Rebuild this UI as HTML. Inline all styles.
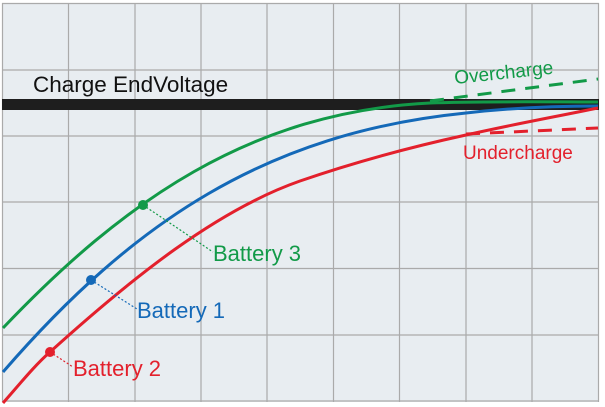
<!DOCTYPE html>
<html><head><meta charset="utf-8"><style>
html,body{margin:0;padding:0;background:#fff}
svg{display:block}
text{font-family:"Liberation Sans","DejaVu Sans",sans-serif}
</style></head><body>
<svg width="605" height="407" viewBox="0 0 605 407" xmlns="http://www.w3.org/2000/svg">
<rect x="2" y="3" width="597" height="399" fill="#e8edf1"/>
<g stroke="#aaaaaa" stroke-width="1.2">
<line x1="2.5" y1="3" x2="2.5" y2="402"/><line x1="68.5" y1="3" x2="68.5" y2="402"/>
<line x1="135" y1="3" x2="135" y2="402"/><line x1="201" y1="3" x2="201" y2="402"/>
<line x1="267" y1="3" x2="267" y2="402"/><line x1="333.5" y1="3" x2="333.5" y2="402"/>
<line x1="399.5" y1="3" x2="399.5" y2="402"/><line x1="466" y1="3" x2="466" y2="402"/>
<line x1="532" y1="3" x2="532" y2="402"/><line x1="598.5" y1="3" x2="598.5" y2="402"/>
<line x1="2" y1="3.5" x2="599" y2="3.5"/><line x1="2" y1="70" x2="599" y2="70"/>
<line x1="2" y1="136" x2="599" y2="136"/><line x1="2" y1="202" x2="599" y2="202"/>
<line x1="2" y1="268.5" x2="599" y2="268.5"/><line x1="2" y1="335" x2="599" y2="335"/>
<line x1="2" y1="401" x2="599" y2="401"/>
</g>
<rect x="2" y="99" width="597" height="11" fill="#1e1e1e"/>
<text x="33" y="92" font-size="22.5" fill="#111">Charge EndVoltage</text>
<g fill="none" stroke-width="3">
<path d="M3,328 C123,202 250,112 430,103 C480,101 560,102 598,102" stroke="#129a48"/>
<path d="M3,372 C133,222 266,133 466,113 C510,108 560,106 598,106" stroke="#1469b8"/>
<path d="M3,403 C19,385 34,366 50,352 C133,277 217,210 300,181 C355,162 411,147 466,135 C510,125 554,117 598,108" stroke="#e3202c"/>
<path d="M430,101 L598,79" stroke="#129a48" stroke-dasharray="14,10"/>
<path d="M466,134 L598,128" stroke="#e3202c" stroke-dasharray="14,10"/>
</g>
<g stroke-width="1.2" stroke-dasharray="2,2" fill="none">
<line x1="143" y1="205" x2="213" y2="252" stroke="#129a48"/>
<line x1="91" y1="280" x2="137" y2="309" stroke="#1469b8"/>
<line x1="50" y1="352" x2="73" y2="367" stroke="#e3202c"/>
</g>
<circle cx="143" cy="205" r="5" fill="#129a48"/>
<circle cx="91" cy="280" r="5" fill="#1469b8"/>
<circle cx="50" cy="352" r="5" fill="#e3202c"/>
<g font-size="22">
<text x="213" y="261" fill="#129a48">Battery 3</text>
<text x="137" y="318" fill="#1469b8">Battery 1</text>
<text x="73" y="376" fill="#e3202c">Battery 2</text>
<text x="463" y="159" fill="#e3202c" font-size="19">Undercharge</text>
<text x="455" y="84" fill="#129a48" font-size="19" transform="rotate(-6 455 84)">Overcharge</text>
</g>
</svg>
</body></html>
